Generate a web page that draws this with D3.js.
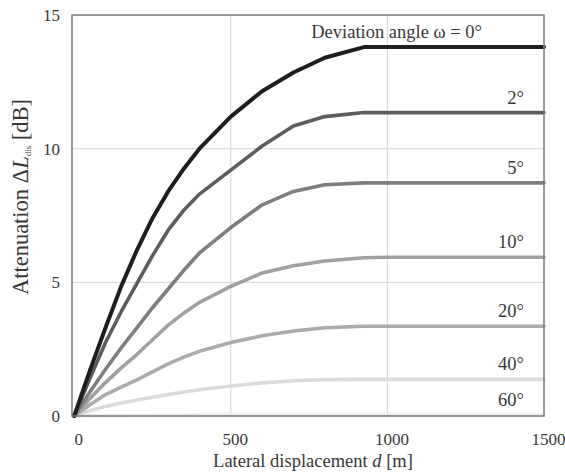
<!DOCTYPE html>
<html>
<head>
<meta charset="utf-8">
<script src="https://cdn.jsdelivr.net/npm/d3@7"></script>
<style>
  body { margin: 0; background: #fff; }
  svg text { font-family: "Liberation Serif", "Times New Roman", serif; fill: #383838; }
</style>
</head>
<body>
<svg id="chart" width="565" height="476"></svg>
<script>
// Lateral displacement d [m]
const distances = [0, 50, 100, 150, 200, 250, 300, 350, 400, 500, 600, 700, 800, 925, 1000, 1500];
// deviation angle labels
const angleLabels = ["Deviation angle ω = 0°", "2°", "5°", "10°", "20°", "40°", "60°"];
// attenuation [dB] for each angle
const att0 = [0, 1.7, 3.3, 4.85, 6.2, 7.4, 8.4, 9.25, 10.0, 11.2, 12.15, 12.85, 13.4, 13.8, 13.8, 13.8];
const att2 = [0, 1.4, 2.75, 3.9, 4.95, 6.0, 6.95, 7.7, 8.3, 9.2, 10.1, 10.85, 11.2, 11.35, 11.35, 11.35];
const att5 = [0, 0.9, 1.75, 2.55, 3.3, 4.05, 4.75, 5.45, 6.1, 7.05, 7.9, 8.4, 8.65, 8.72, 8.72, 8.72];
const att10 = [0, 0.65, 1.25, 1.8, 2.3, 2.85, 3.4, 3.85, 4.25, 4.85, 5.35, 5.62, 5.8, 5.92, 5.94, 5.94];
const att20 = [0, 0.42, 0.8, 1.08, 1.35, 1.65, 1.95, 2.2, 2.42, 2.75, 3.0, 3.18, 3.3, 3.36, 3.36, 3.36];
const att40 = [0, 0.2, 0.36, 0.49, 0.6, 0.7, 0.8, 0.9, 0.98, 1.12, 1.24, 1.32, 1.36, 1.37, 1.37, 1.37];
const att60 = [0, 0.01, 0.02, 0.02, 0.03, 0.03, 0.04, 0.04, 0.05, 0.05, 0.05, 0.05, 0.05, 0.05, 0.05, 0.05];
const xTicks = [0, 500, 1000, 1500];
const yTicks = [0, 5, 10, 15];

const series = [att0, att2, att5, att10, att20, att40, att60];
const colors = ["#1e1e1e", "#5c5c5c", "#7e7e7e", "#a0a0a0", "#ababab", "#dadada", "#ececec"];
const widths = [4, 3.6, 3.6, 3.6, 3.6, 3.6, 3.6];

const svg = d3.select("#chart");
const plotLeft = 72, plotRight = 544, plotTop = 15, plotBottom = 416;

const x = d3.scaleLinear().domain([-7, 1500]).range([plotLeft, plotRight]);
const y = d3.scaleLinear().domain([0, 15]).range([plotBottom, plotTop]);

// grid lines
svg.append("g")
  .selectAll("line")
  .data([500, 1000])
  .enter().append("line")
  .attr("x1", d => x(d)).attr("x2", d => x(d))
  .attr("y1", plotTop).attr("y2", plotBottom)
  .attr("stroke", "#dcdcdc").attr("stroke-width", 1.2);
svg.append("g")
  .selectAll("line")
  .data([5, 10])
  .enter().append("line")
  .attr("x1", plotLeft).attr("x2", plotRight)
  .attr("y1", d => y(d)).attr("y2", d => y(d))
  .attr("stroke", "#dcdcdc").attr("stroke-width", 1.2);

// curves
const line = d3.line()
  .x((d, i) => x(distances[i]))
  .y(d => y(d));

svg.append("g")
  .selectAll("path")
  .data(series.map((s, i) => ({ s, i })).reverse())
  .enter().append("path")
  .attr("d", d => line(d.s))
  .attr("fill", "none")
  .attr("stroke", d => colors[d.i])
  .attr("stroke-width", d => widths[d.i])
  .attr("stroke-linejoin", "round")
  .attr("stroke-linecap", "round");

// frame
svg.append("rect")
  .attr("x", plotLeft).attr("y", plotTop)
  .attr("width", plotRight - plotLeft).attr("height", plotBottom - plotTop)
  .attr("fill", "none").attr("stroke", "#7a7a7a").attr("stroke-width", 1.5);

// axes
const xAxis = svg.append("g")
  .attr("transform", `translate(0,${plotBottom})`)
  .call(d3.axisBottom(x).tickValues(xTicks).tickFormat(d => d).tickSize(0).tickPadding(17));
xAxis.select(".domain").remove();
xAxis.selectAll("text")
  .attr("dx", 4)
  .style("font-size", "17px")
  .style("font-family", "Liberation Serif");

const yAxis = svg.append("g")
  .attr("transform", `translate(${plotLeft},0)`)
  .call(d3.axisLeft(y).tickValues(yTicks).tickSize(0).tickPadding(12));
yAxis.select(".domain").remove();
yAxis.selectAll("text")
  .style("font-size", "17px")
  .style("font-family", "Liberation Serif");

// curve labels
svg.append("g")
  .selectAll("text")
  .data(angleLabels)
  .enter().append("text")
  .attr("x", (d, i) => i === 0 ? 482 : 524)
  .attr("y", (d, i) => y(series[i][series[i].length - 1]) - 9)
  .attr("text-anchor", "end")
  .style("font-size", "18.5px")
  .text(d => d);

// axis titles
svg.append("text")
  .attr("x", 313).attr("y", 467)
  .attr("text-anchor", "middle")
  .style("font-size", "18.5px")
  .html('Lateral displacement <tspan font-style="italic">d</tspan> [m]');

svg.append("text")
  .attr("transform", "translate(28,197) rotate(-90)")
  .attr("text-anchor", "middle")
  .style("font-size", "22.5px")
  .html('Attenuation Δ<tspan font-style="italic">L</tspan><tspan font-size="9px" dy="3">dis</tspan><tspan dy="-3"> [dB]</tspan>');
</script>
</body>
</html>
